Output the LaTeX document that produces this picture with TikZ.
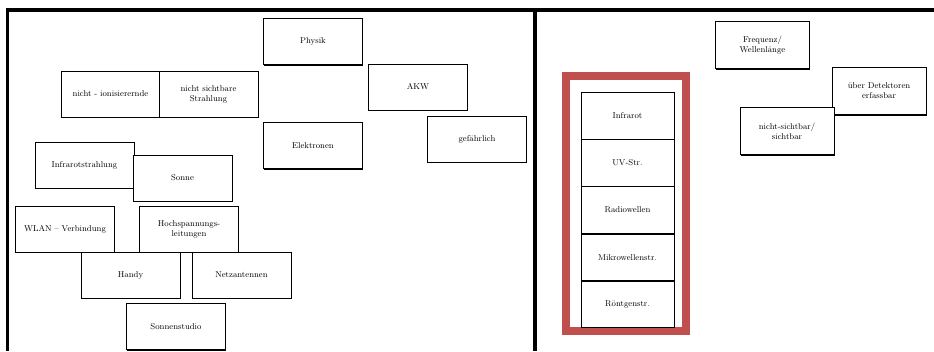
\documentclass[tikz,border=0pt]{standalone}
\usetikzlibrary{shadows}
\definecolor{redframe}{RGB}{192,80,77}

\begin{document}
\begin{tikzpicture}[x=1pt,y=-1pt,
    font=\fontsize{8.5}{10}\selectfont,
    block_card/.style ={rectangle, draw=black, line width=0.7pt, fill=white,
      text width=86pt, align=center, minimum width=99pt, minimum height=46pt,
      inner sep=2pt,
      drop shadow={shadow xshift=0.7pt, shadow yshift=-1.4pt, fill=black, opacity=1}},
    block_small/.style ={block_card, minimum width=94pt, minimum height=47pt,
      text width=82pt},
    block_cell/.style ={rectangle, draw=black, line width=0.7pt, fill=white,
      text width=86pt, align=center, minimum width=93pt, minimum height=46.4pt,
      inner sep=0pt},
    frame/.style ={draw=black, line width=3.5pt},
    red_frame/.style ={draw=redframe, line width=8pt}]
    \useasboundingbox (0,0) rectangle (934,351);
    % the two fields of the sheet
    \draw[frame] (7.5,351) -- (7.5,10) -- (934,10);
    \draw[frame] (535,10) -- (535,351);
    % left field: loose cards
    \node [block_card] (nicht_ionisierend) at (110.5,94) {nicht - ionisierernde};
    \node [block_card] (nicht_sichtbar) at (208.5,94) {nicht sichtbare\\Strahlung};
    \node [block_card] (physik) at (313,41.5) {Physik};
    \node [block_card] (akw) at (418,87) {AKW};
    \node [block_card] (gefaehrlich) at (477,139) {gefährlich};
    \node [block_card] (elektronen) at (313,145.5) {Elektronen};
    \node [block_card] (infrarotstrahlung) at (84.5,165) {Infrarotstrahlung};
    \node [block_card] (sonne) at (182.5,178) {Sonne};
    \node [block_card] (wlan) at (65,229) {WLAN -- Verbindung};
    \node [block_card] (hochspannung) at (189,229) {Hochspannungs-\\leitungen};
    \node [block_card] (handy) at (130.5,275) {Handy};
    \node [block_card] (netzantennen) at (241.5,275) {Netzantennen};
    \node [block_card] (sonnenstudio) at (176,326.5) {Sonnenstudio};
    % right field: cards
    \node [block_small] (frequenz) at (762.5,45) {Frequenz/\\Wellenlänge};
    \node [block_small] (detektoren) at (879,91) {über Detektoren\\erfassbar};
    \node [block_small] (sichtbar) at (787,131) {nicht-sichtbar/\\sichtbar};
    % right field: the spectrum column in its red frame
    \draw[red_frame] (566,76) rectangle (686,331);
    \matrix (spektrum) [row sep=0pt, inner sep=0pt] at (627.5,210) {
      \node [block_cell] (infrarot) {Infrarot}; \\
      \node [block_cell] (uv) {UV-Str.}; \\
      \node [block_cell] (radiowellen) {Radiowellen}; \\
      \node [block_cell] (mikrowellen) {Mikrowellenstr.}; \\
      \node [block_cell] (roentgen) {Röntgenstr.}; \\
    };% end matrix
  \end{tikzpicture}
\end{document}
